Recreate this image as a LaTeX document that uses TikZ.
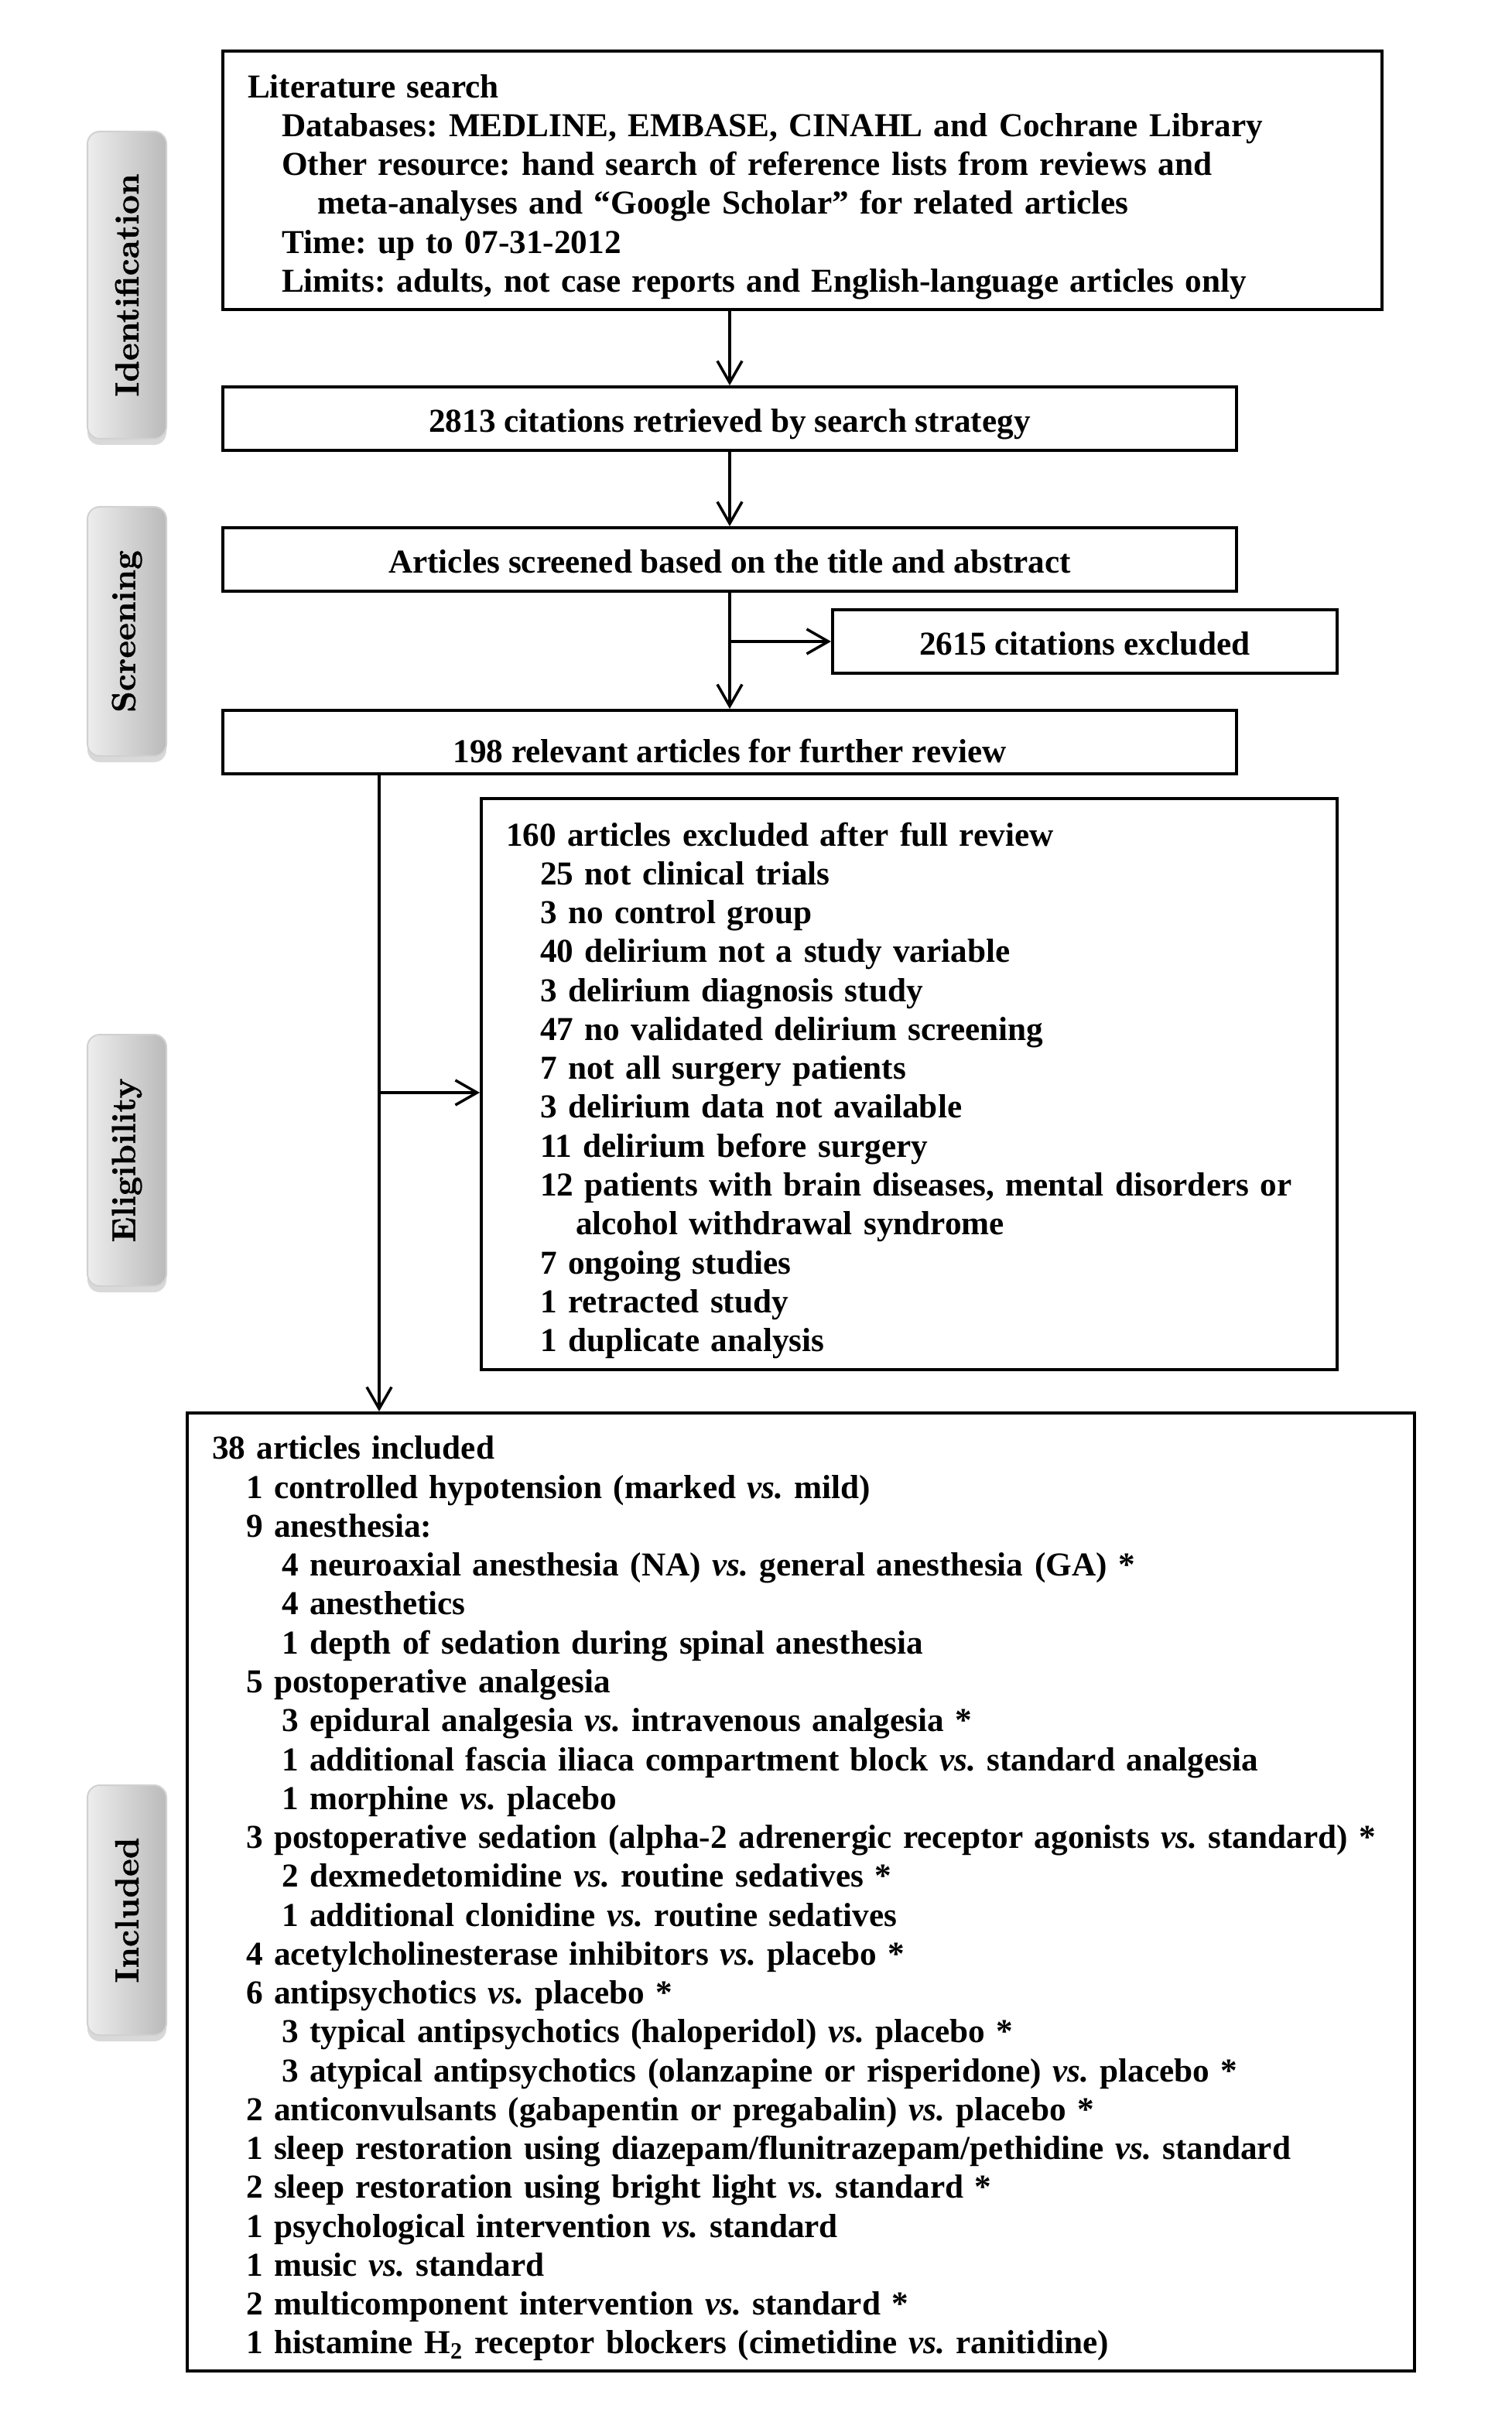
\documentclass[tikz,border=0pt]{standalone}
\usepackage{fontspec}
\newfontfamily\timesfont{Liberation Serif}
\newfontfamily\phasefont[FakeBold=0.8]{lmroman10-bold.otf}
\usetikzlibrary{arrows.meta,shadows}

\begin{document}
\begin{tikzpicture}[scale=1,
	box/.style={draw, line width=0.04cm, inner xsep=0.32cm, inner ysep=0pt,
		font=\timesfont\bfseries\fontsize{12.3}{14.3}\selectfont\frenchspacing},
	onebox/.style={box, minimum width=#1, minimum height=0.82cm,
		text height=0.46cm, text depth=0.1cm},
	listbox/.style={box, align=left, text width=#1},
	phase/.style={draw=black!18, line width=0.02cm, rounded corners=0.16cm,
		left color=black!7, right color=black!27, minimum width=1.02cm,
		drop shadow={shadow xshift=0cm, shadow yshift=-0.08cm, opacity=0.3},
		font=\phasefont\fontsize{12.3}{14}\selectfont},
	arr/.style={line width=0.035cm, -{Straight Barb[length=0.28cm,width=0.32cm]}}]
	
	%--- Khung hình ---
	\useasboundingbox (0,0) rectangle (19.53,-31.39);
	\def\lvla{\hspace*{0.44cm}} % thụt lề mức 1
	\def\lvlb{\hspace*{0.90cm}} % thụt lề mức 2
	\def\topstrut{\rule{0pt}{0.47cm}} % đẩy chữ xuống một chút
	
	%--- Các giai đoạn ---
	\foreach \nm/\yc/\hh/\txt in {id/-3.685/3.97/Identification, scr/-8.16/3.22/Screening,
		elig/-14.995/3.25/Eligibility, inc/-24.685/3.23/Included} {
		\node[phase, minimum height=\hh cm] (lbl\nm) at (1.64,\yc) {\rotatebox{90}{\txt}};
	}
	
	%--- Tìm kiếm ---
	\node[listbox=14.34cm, minimum height=3.34cm] (search) at (10.37,-2.33) {
		\topstrut Literature search\\
		\lvla Databases: MEDLINE, EMBASE, CINAHL and Cochrane Library\\
		\lvla Other resource: hand search of reference lists from reviews and\\
		\lvlb meta-analyses and “Google Scholar” for related articles\\
		\lvla Time: up to 07-31-2012\\
		\lvla Limits: adults, not case reports and English-language articles only};
	
	\node[onebox=13.10cm] (retrieved) at (9.43,-5.41)
		{2813 citations retrieved by search strategy};
	\node[onebox=13.10cm] (screened) at (9.43,-7.23)
		{Articles screened based on the title and abstract};
	\node[onebox=6.52cm] (excluded) at (14.02,-8.29)
		{2615 citations excluded};
	\node[onebox=13.10cm, text height=0.64cm] (review) at (9.43,-9.59)
		{198 relevant articles for further review};
	
	%--- Loại sau khi đọc toàn văn ---
	\node[listbox=10.42cm, minimum height=7.38cm] (fullexcl) at (11.75,-14.01) {
		\topstrut 160 articles excluded after full review\\
		\lvla 25 not clinical trials\\
		\lvla 3 no control group\\
		\lvla 40 delirium not a study variable\\
		\lvla 3 delirium diagnosis study\\
		\lvla 47 no validated delirium screening\\
		\lvla 7 not all surgery patients\\
		\lvla 3 delirium data not available\\
		\lvla 11 delirium before surgery\\
		\lvla 12 patients with brain diseases, mental disorders or\\
		\lvlb alcohol withdrawal syndrome\\
		\lvla 7 ongoing studies\\
		\lvla 1 retracted study\\
		\lvla 1 duplicate analysis};
	
	%--- Bài được chọn ---
	\node[listbox=15.22cm, minimum height=12.38cm] (included) at (10.35,-24.45) {
		\topstrut 38 articles included\\
		\lvla 1 controlled hypotension (marked \textit{vs.} mild)\\
		\lvla 9 anesthesia:\\
		\lvlb 4 neuroaxial anesthesia (NA) \textit{vs.} general anesthesia (GA) *\\
		\lvlb 4 anesthetics\\
		\lvlb 1 depth of sedation during spinal anesthesia\\
		\lvla 5 postoperative analgesia\\
		\lvlb 3 epidural analgesia \textit{vs.} intravenous analgesia *\\
		\lvlb 1 additional fascia iliaca compartment block \textit{vs.} standard analgesia\\
		\lvlb 1 morphine \textit{vs.} placebo\\
		\lvla 3 postoperative sedation (alpha-2 adrenergic receptor agonists \textit{vs.} standard) *\\
		\lvlb 2 dexmedetomidine \textit{vs.} routine sedatives *\\
		\lvlb 1 additional clonidine \textit{vs.} routine sedatives\\
		\lvla 4 acetylcholinesterase inhibitors \textit{vs.} placebo *\\
		\lvla 6 antipsychotics \textit{vs.} placebo *\\
		\lvlb 3 typical antipsychotics (haloperidol) \textit{vs.} placebo *\\
		\lvlb 3 atypical antipsychotics (olanzapine or risperidone) \textit{vs.} placebo *\\
		\lvla 2 anticonvulsants (gabapentin or pregabalin) \textit{vs.} placebo *\\
		\lvla 1 sleep restoration using diazepam/flunitrazepam/pethidine \textit{vs.} standard\\
		\lvla 2 sleep restoration using bright light \textit{vs.} standard *\\
		\lvla 1 psychological intervention \textit{vs.} standard\\
		\lvla 1 music \textit{vs.} standard\\
		\lvla 2 multicomponent intervention \textit{vs.} standard *\\
		\lvla 1 histamine H\textsubscript{2} receptor blockers (cimetidine \textit{vs.} ranitidine)};
	
	%--- Mũi tên ---
	\coordinate (split) at (4.90,-14.12);
	\draw[arr] (search.south -| retrieved.north) -- (retrieved.north);
	\draw[arr] (retrieved.south) -- (screened.north);
	\draw[arr] (screened.south) -- (review.north);
	\draw[arr] (screened.south |- excluded.west) -- (excluded.west);
	\draw[arr] (review.south -| split) -- (split |- included.north);
	\draw[arr] (split) -- (split -| fullexcl.west);
	
\end{tikzpicture}
\end{document}
